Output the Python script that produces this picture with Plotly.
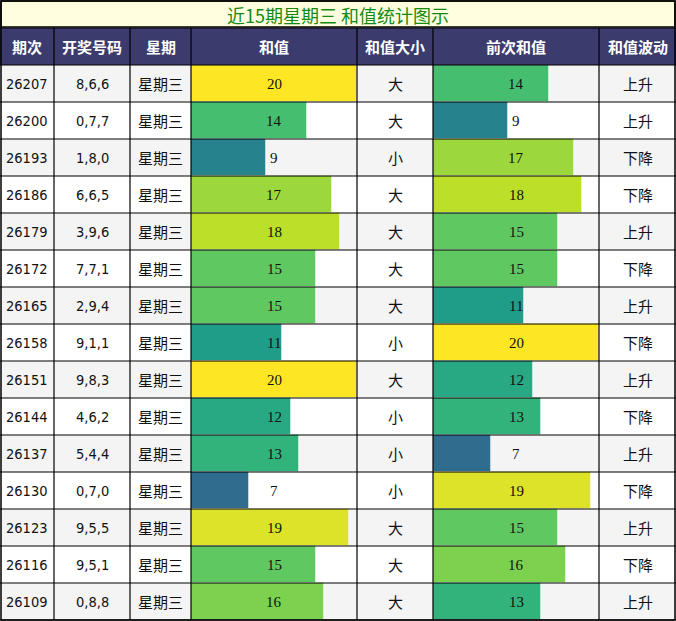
import plotly.graph_objects as go

# ── datos ─────────────────────────────────────────────────────────
title = "近15期星期三 和值统计图示"
headers = ["期次", "开奖号码", "星期", "和值", "和值大小", "前次和值", "和值波动"]

periods = ["26207", "26200", "26193", "26186", "26179", "26172", "26165", "26158",
           "26151", "26144", "26137", "26130", "26123", "26116", "26109"]
draws = ["8,6,6", "0,7,7", "1,8,0", "6,6,5", "3,9,6", "7,7,1", "2,9,4", "9,1,1",
         "9,8,3", "4,6,2", "5,4,4", "0,7,0", "9,5,5", "9,5,1", "0,8,8"]
weekday = ["星期三"] * 15
sums = [20, 14, 9, 17, 18, 15, 15, 11, 20, 12, 13, 7, 19, 15, 16]
sizes = ["大", "大", "小", "大", "大", "大", "大", "小", "大", "小", "小", "小", "大", "大", "大"]
prev_sums = [14, 9, 17, 18, 15, 15, 11, 20, 12, 13, 7, 19, 15, 16, 13]
trends = ["上升", "上升", "下降", "下降", "上升", "下降", "上升", "下降",
          "上升", "下降", "上升", "下降", "上升", "下降", "上升"]

# ── geometría (px) ────────────────────────────────────────────────
W, H = 676, 621
col_edges = [0, 54, 130, 191, 357, 433, 599, 676]
TITLE_H, HEAD_B, ROW_H = 28, 65, 37
n = len(periods)
body_b = HEAD_B + ROW_H * n

CJK = "Noto Sans CJK SC"
NARROW = "DejaVu Sans Condensed"
SERIF = "Liberation Serif"

fig = go.Figure()

# barras de valores (escala 0-20, color viridis)
for vals, xa in [(sums, "x2"), (prev_sums, "x3")]:
    fig.add_trace(go.Bar(
        x=vals, y=periods, orientation="h", xaxis=xa, yaxis="y2",
        width=1.0,
        marker=dict(color=vals, colorscale="Viridis", cmin=0, cmax=20,
                    line=dict(width=1, color="rgba(255,255,255,0.45)")),
        hoverinfo="skip", showlegend=False,
    ))

shapes = []
# fondos de filas
for i in range(n):
    y0 = HEAD_B + ROW_H * i
    shapes.append(dict(type="rect", xref="x", yref="y", x0=0, x1=W, y0=y0, y1=y0 + ROW_H,
                       fillcolor="#F4F4F4" if i % 2 == 0 else "#FFFFFF",
                       line=dict(width=0), layer="below"))
# título y cabecera
shapes.append(dict(type="rect", xref="x", yref="y", x0=1, x1=W - 1, y0=1, y1=TITLE_H - 1,
                   fillcolor="#FFFFE0", line=dict(color="black", width=1.5), layer="below"))
shapes.append(dict(type="rect", xref="x", yref="y", x0=0, x1=W, y0=TITLE_H, y1=HEAD_B,
                   fillcolor="#3B3B6E", line=dict(width=0), layer="below"))

# rejilla
line = dict(color="black", width=1.2)
for xe in col_edges[1:-1]:
    shapes.append(dict(type="line", xref="x", yref="y", x0=xe, x1=xe, y0=TITLE_H, y1=body_b, line=line))
for i in range(n + 1):
    y = HEAD_B + ROW_H * i
    shapes.append(dict(type="line", xref="x", yref="y", x0=0, x1=W, y0=y, y1=y, line=line))
shapes.append(dict(type="line", xref="x", yref="y", x0=0, x1=W, y0=TITLE_H, y1=TITLE_H, line=line))
shapes.append(dict(type="rect", xref="x", yref="y", x0=1, x1=W - 1, y0=1, y1=body_b,
                   line=dict(color="black", width=1.5)))

annotations = [dict(text=title, xref="x", yref="y", x=W / 2, y=TITLE_H / 2 + 1,
                    showarrow=False, font=dict(family=CJK, size=18, color="#138A13"))]

centers = [(col_edges[k] + col_edges[k + 1]) / 2 for k in range(len(col_edges) - 1)]
for k, h in enumerate(headers):
    annotations.append(dict(text="<b>" + h + "</b>", xref="x", yref="y", x=centers[k],
                            y=(TITLE_H + HEAD_B) / 2, showarrow=False,
                            font=dict(family=CJK, size=15, color="white")))

# textos de celdas (y = índice de fila en el eje de categorías)
columns = [
    (0, periods, NARROW, 14.5),
    (1, draws, NARROW, 14.5),
    (2, weekday, CJK, 15),
    (4, sizes, CJK, 15),
    (6, trends, CJK, 15),
]
for k, vals, fam, sz in columns:
    for i, v in enumerate(vals):
        annotations.append(dict(text=v, xref="x", yref="y2", x=centers[k], y=i,
                                showarrow=False, font=dict(family=fam, size=sz, color="#111111")))
for xa, vals in [("x2 domain", sums), ("x3 domain", prev_sums)]:
    for i, v in enumerate(vals):
        annotations.append(dict(text=str(v), xref=xa, yref="y2", x=0.5, y=i,
                                showarrow=False, font=dict(family=SERIF, size=15, color="#111111")))

hidden = dict(visible=False, fixedrange=True, showgrid=False, zeroline=False)
fig.update_layout(
    width=W, height=H,
    margin=dict(l=0, r=0, t=0, b=0),
    paper_bgcolor="white", plot_bgcolor="rgba(0,0,0,0)",
    xaxis=dict(range=[0, W], domain=[0, 1], **hidden),
    yaxis=dict(range=[H, 0], domain=[0, 1], **hidden),
    xaxis2=dict(range=[0, 20], domain=[col_edges[3] / W, col_edges[4] / W], anchor="y2", **hidden),
    xaxis3=dict(range=[0, 20], domain=[col_edges[5] / W, col_edges[6] / W], anchor="y2", **hidden),
    yaxis2=dict(type="category", categoryarray=periods, categoryorder="array",
                range=[n - 0.5, -0.5], domain=[(H - body_b) / H, (H - HEAD_B) / H],
                anchor="x2", **hidden),
    shapes=shapes,
    annotations=annotations,
    bargap=0,
)

fig.write_html("out.html", config={"displayModeBar": False},
               post_script="document.body.style.margin='0';")
